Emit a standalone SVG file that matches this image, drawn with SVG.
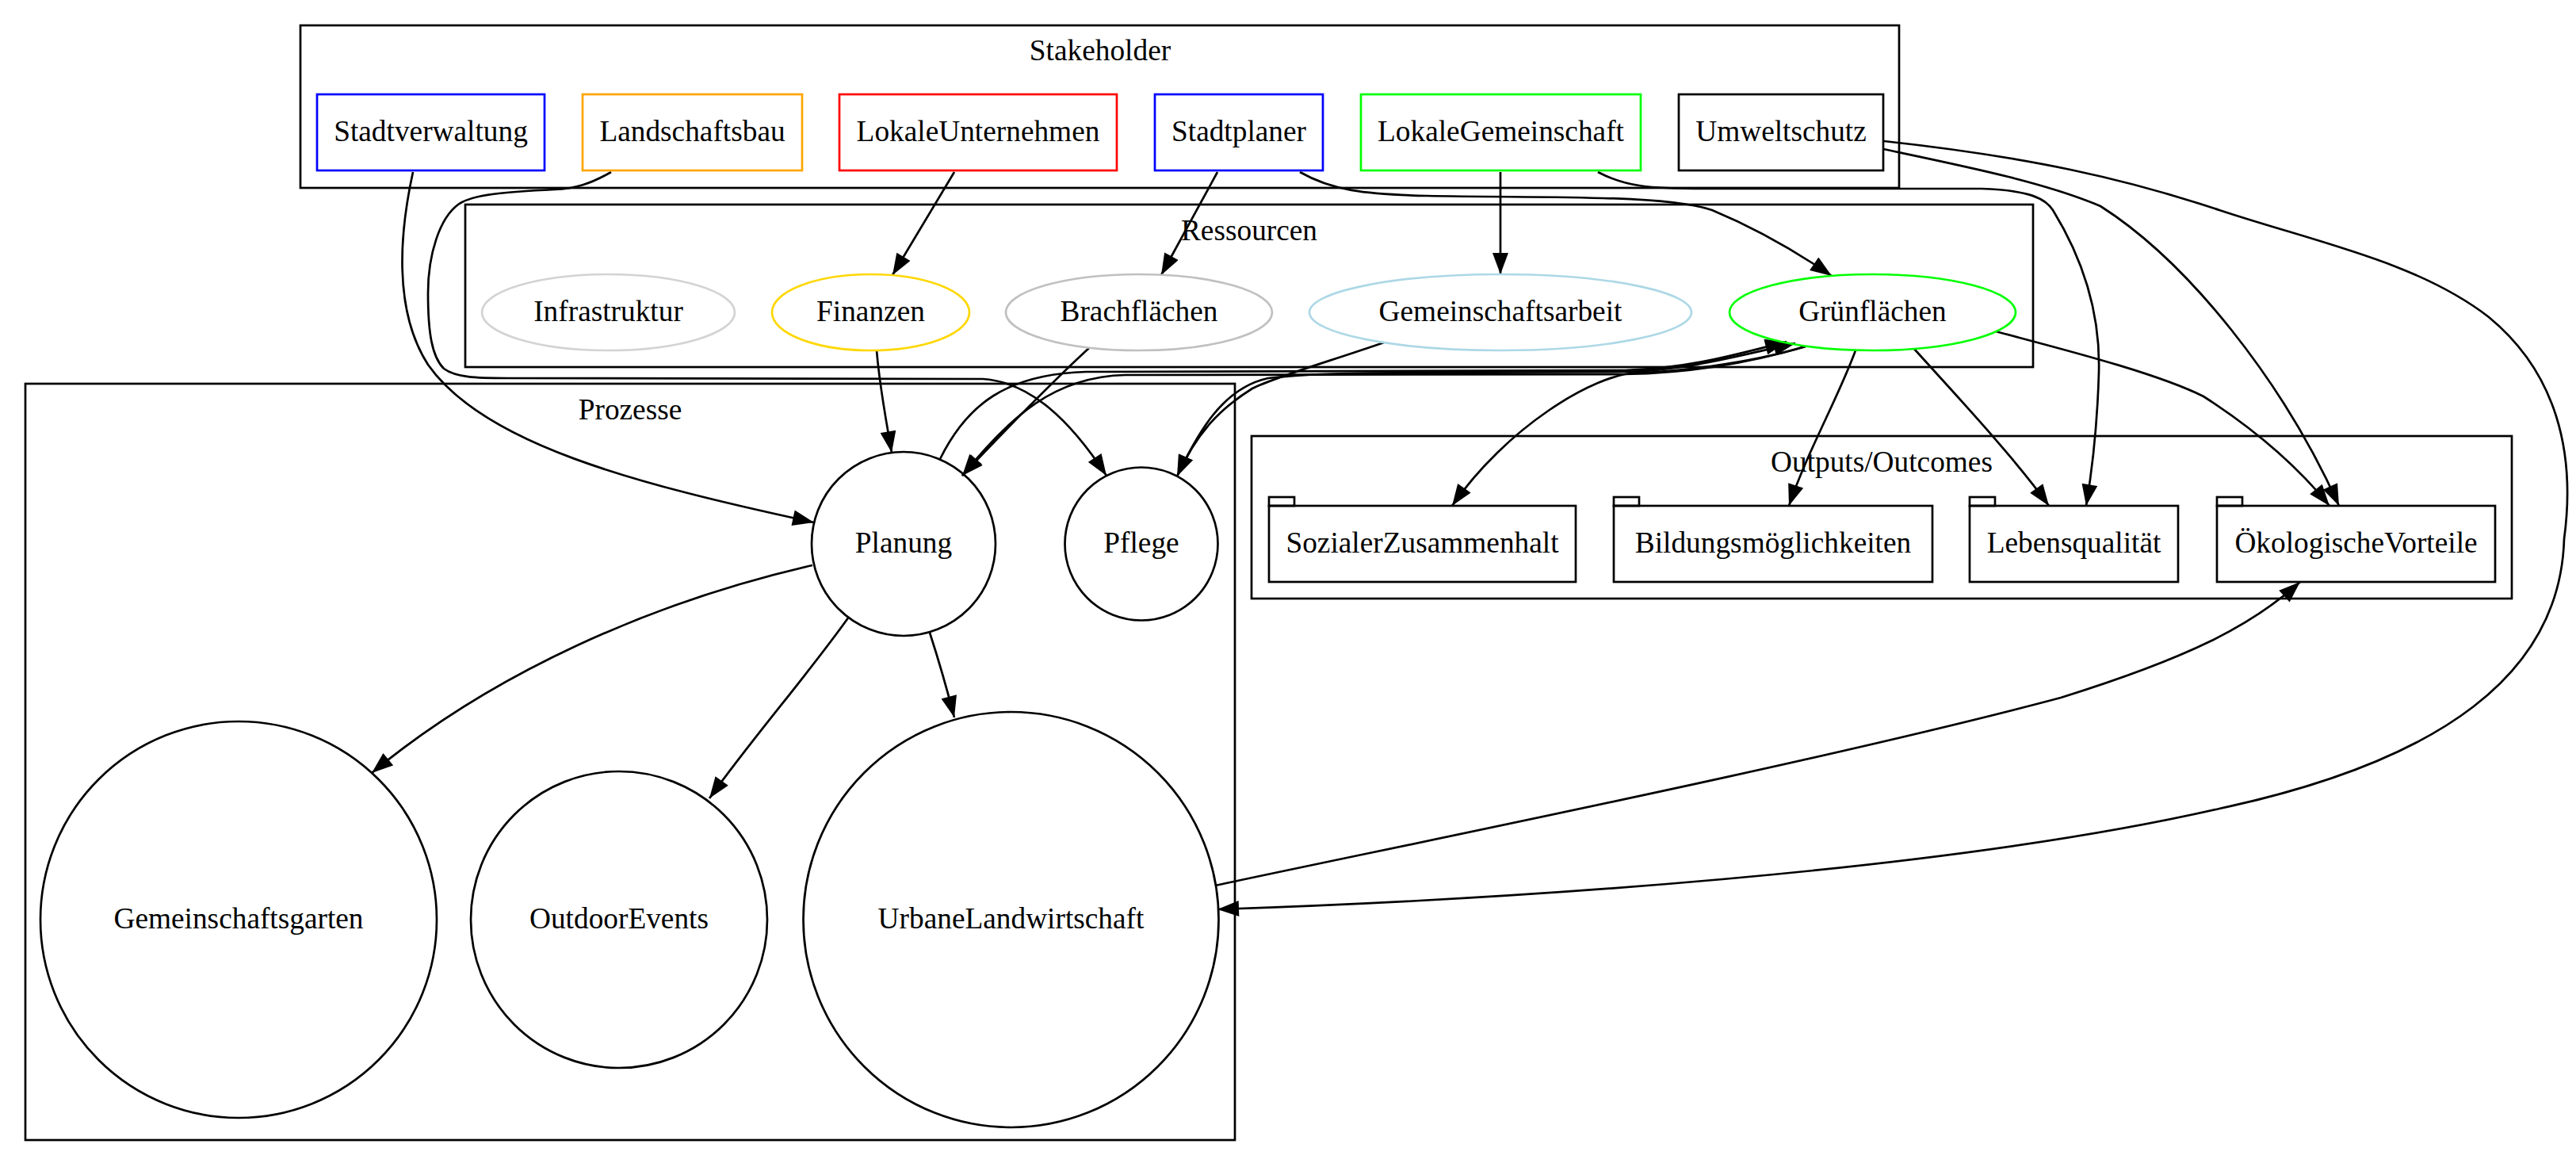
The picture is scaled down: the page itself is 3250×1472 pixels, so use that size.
<svg xmlns="http://www.w3.org/2000/svg" width="3250" height="1472" viewBox="0 0 3250 1472">
<style>
text{font-family:"Liberation Serif","Times New Roman",serif;font-size:37.33px;text-anchor:middle;fill:#000}
.cl{fill:none;stroke:#000;stroke-width:2.7}
.nd{fill:none;stroke-width:2.7}
.e{fill:none;stroke:#000;stroke-width:2.7;marker-end:url(#ah)}
.e0{fill:none;stroke:#000;stroke-width:2.7}
</style>
<defs>
<marker id="ah" markerUnits="userSpaceOnUse" markerWidth="28" markerHeight="20" viewBox="0 0 27 20" refX="27" refY="10" orient="auto">
<path d="M0,0 L27,10 L0,20 z" fill="#000"/>
</marker>
</defs>
<rect width="3250" height="1472" fill="#fff"/>
<g id="clusters">
<g id="cluster_stakeholder"><rect class="cl" x="379" y="32" width="2017" height="205"/><text x="1388" y="76">Stakeholder</text></g>
<g id="cluster_ressourcen"><rect class="cl" x="587" y="258" width="1978" height="205"/><text x="1576" y="303">Ressourcen</text></g>
<g id="cluster_prozesse"><rect class="cl" x="32" y="484" width="1526" height="954"/><text x="795" y="529">Prozesse</text></g>
<g id="cluster_outputs"><rect class="cl" x="1579" y="550" width="1590" height="205"/><text x="2374" y="595">Outputs/Outcomes</text></g>
</g>
<g id="edges">
<path class="e" d="M521,217 C505,290 495,390 540,460 C610,560 800,610 1027,659"/>
<path class="e" d="M771,217 C745,232 725,238 700,239 C640,242 595,245 578,258 C555,275 540,320 540,370 C540,420 545,450 560,465 C575,476 600,477 640,477 L1240,478 C1300,482 1350,530 1396,600"/>
<path class="e" d="M1204,217 L1126,347"/>
<path class="e" d="M1536,217 L1465,347"/>
<path class="e" d="M1640,217 C1680,240 1720,245 1800,247 C1950,250 2100,245 2160,265 C2220,290 2270,320 2311,348"/>
<path class="e" d="M1893,217 L1893,346"/>
<path class="e" d="M2016,217 C2050,235 2080,238 2150,238 L2500,238 C2560,240 2580,250 2590,265 C2630,330 2650,400 2648,470 C2646,540 2640,590 2632,638"/>
<path class="e" d="M2376,188 C2480,210 2580,230 2650,260 C2760,330 2880,480 2951,638"/>
<path class="e" d="M2377,178 C2560,198 2680,225 2800,265 C2920,305 3050,330 3140,400 C3225,470 3250,570 3235,680 C3230,850 3080,960 2800,1020 C2450,1100 1900,1135 1536,1147"/>
<path class="e" d="M1106,442 C1110,490 1118,530 1125,571"/>
<path class="e" d="M1374,439 C1340,470 1270,540 1214,600"/>
<path class="e" d="M1746,432 C1680,455 1610,475 1580,490 C1540,515 1510,545 1485,601"/>
<path class="e" d="M1186,579 C1220,510 1270,472 1370,469 L2050,467 C2130,465 2190,447 2254,431"/>
<path class="e" d="M2278,437 C2200,460 2120,471 2050,472 L1420,473 C1330,475 1275,525 1214,600"/>
<path class="e" d="M1485,601 C1510,550 1540,490 1600,477 C1650,471 1700,471 1800,470 L2050,469 C2130,467 2195,448 2265,433"/>
<path class="e" d="M2278,437 C2200,460 2110,469 2066,470 C2010,472 1900,540 1832,638"/>
<path class="e" d="M2341,442 C2320,500 2280,570 2257,638"/>
<path class="e" d="M2415,440 C2460,490 2540,575 2585,638"/>
<path class="e" d="M2518,418 C2600,440 2720,470 2780,500 C2850,545 2900,590 2939,638"/>
<path class="e" d="M1025,713 C820,760 620,850 469,975"/>
<path class="e" d="M1071,778 C1020,850 950,930 895,1007"/>
<path class="e" d="M1173,798 C1185,835 1195,870 1204,905"/>
<path class="e" d="M1533,1117 C1800,1060 2300,960 2600,880 C2760,830 2840,790 2902,734"/>
</g>
<g id="Stadtverwaltung"><rect class="nd" stroke="#0000ff" x="400" y="119" width="287" height="96"/><text x="543.5" y="178">Stadtverwaltung</text></g>
<g id="Landschaftsbau"><rect class="nd" stroke="#ffa500" x="735" y="119" width="277" height="96"/><text x="873.5" y="178">Landschaftsbau</text></g>
<g id="LokaleUnternehmen"><rect class="nd" stroke="#ff0000" x="1059" y="119" width="350" height="96"/><text x="1234" y="178">LokaleUnternehmen</text></g>
<g id="Stadtplaner"><rect class="nd" stroke="#0000ff" x="1457" y="119" width="212" height="96"/><text x="1563" y="178">Stadtplaner</text></g>
<g id="LokaleGemeinschaft"><rect class="nd" stroke="#00ff00" x="1717" y="119" width="353" height="96"/><text x="1893.5" y="178">LokaleGemeinschaft</text></g>
<g id="Umweltschutz"><rect class="nd" stroke="#000000" x="2118" y="119" width="258" height="96"/><text x="2247" y="178">Umweltschutz</text></g>
<g id="Infrastruktur"><ellipse class="nd" stroke="#d3d3d3" cx="767.5" cy="394" rx="159.5" ry="48"/><text x="767.5" y="405">Infrastruktur</text></g>
<g id="Finanzen"><ellipse class="nd" stroke="#ffd700" cx="1098.5" cy="394" rx="124.5" ry="48"/><text x="1098.5" y="405">Finanzen</text></g>
<g id="Brachflaechen"><ellipse class="nd" stroke="#c0c0c0" cx="1437" cy="394" rx="168" ry="48"/><text x="1437" y="405">Brachflächen</text></g>
<g id="Gemeinschaftsarbeit"><ellipse class="nd" stroke="#add8e6" cx="1893" cy="394" rx="241" ry="48"/><text x="1893" y="405">Gemeinschaftsarbeit</text></g>
<g id="Gruenflaechen"><ellipse class="nd" stroke="#00ff00" cx="2362.5" cy="394" rx="180.5" ry="48"/><text x="2362.5" y="405">Grünflächen</text></g>
<g id="Planung"><circle class="nd" stroke="#000" cx="1140" cy="686" r="116"/><text x="1140" y="697">Planung</text></g>
<g id="Pflege"><circle class="nd" stroke="#000" cx="1440" cy="686" r="96.5"/><text x="1440" y="697">Pflege</text></g>
<g id="Gemeinschaftsgarten"><circle class="nd" stroke="#000" cx="301" cy="1160" r="250"/><text x="301" y="1171">Gemeinschaftsgarten</text></g>
<g id="OutdoorEvents"><circle class="nd" stroke="#000" cx="781" cy="1160" r="187"/><text x="781" y="1171">OutdoorEvents</text></g>
<g id="UrbaneLandwirtschaft"><circle class="nd" stroke="#000" cx="1275.5" cy="1160" r="262"/><text x="1275.5" y="1171">UrbaneLandwirtschaft</text></g>
<g id="SozialerZusammenhalt"><rect class="nd" stroke="#000" x="1601" y="638" width="387" height="96"/><rect class="nd" stroke="#000" x="1601" y="627" width="32" height="11"/><text x="1794.5" y="697">SozialerZusammenhalt</text></g>
<g id="Bildungsmoeglichkeiten"><rect class="nd" stroke="#000" x="2036" y="638" width="402" height="96"/><rect class="nd" stroke="#000" x="2036" y="627" width="32" height="11"/><text x="2237" y="697">Bildungsmöglichkeiten</text></g>
<g id="Lebensqualitaet"><rect class="nd" stroke="#000" x="2485" y="638" width="263" height="96"/><rect class="nd" stroke="#000" x="2485" y="627" width="32" height="11"/><text x="2616.5" y="697">Lebensqualität</text></g>
<g id="OekologischeVorteile"><rect class="nd" stroke="#000" x="2797" y="638" width="351" height="96"/><rect class="nd" stroke="#000" x="2797" y="627" width="32" height="11"/><text x="2972.5" y="697">ÖkologischeVorteile</text></g>
</svg>
